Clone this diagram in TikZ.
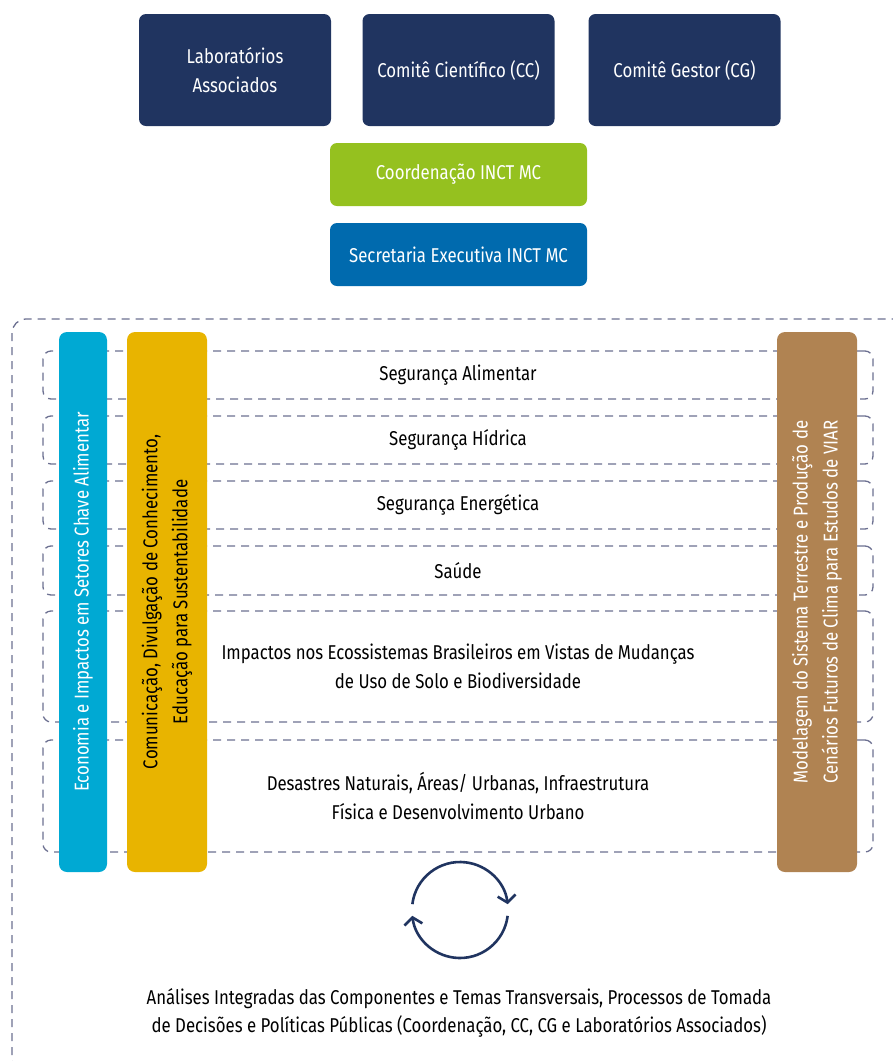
\documentclass[tikz,border=0pt]{standalone}
\usepackage{fontspec}
\setmainfont{Fira Sans}[FakeStretch=0.84]
\usepackage{tikz}
\usetikzlibrary{arrows.meta}
\definecolor{navyb}{RGB}{32,52,96}
\definecolor{greenb}{RGB}{149,193,31}
\definecolor{blueb}{RGB}{0,106,174}
\definecolor{cyanb}{RGB}{0,169,211}
\definecolor{goldb}{RGB}{232,180,0}
\definecolor{brownb}{RGB}{176,131,82}
\definecolor{dashc}{RGB}{108,112,145}

\begin{document}
\begin{tikzpicture}[x=1pt,y=-1pt,
  txt/.style={font=\fontsize{20}{28.5}\selectfont,align=center,inner sep=0pt},
  topbox/.style={txt,fill=navyb,text=white,rounded corners=7pt,minimum width=192pt,minimum height=112pt},
  midbox/.style={txt,text=white,rounded corners=7pt,minimum width=257pt,minimum height=63pt},
  row/.style={txt,draw=dashc,line width=1.3pt,dash pattern=on 8pt off 6pt,rounded corners=8pt,minimum width=830pt},
  bar/.style={txt,rotate=90,rounded corners=8pt,minimum width=540pt,font=\fontsize{20}{30}\selectfont},
  cyc/.style={navyb,line width=2.6pt,-{Straight Barb[length=7pt,width=18pt,line width=2.6pt]}}]
\useasboundingbox (0,0) rectangle (893,1061);

% outer frame, cut by the page
\begin{scope}
\clip (0,0) rectangle (893,1061);
\draw[dashc,line width=1.3pt,dash pattern=on 8pt off 6pt,rounded corners=14pt] (12,319) rectangle (920,1075);
\end{scope}

\node[topbox] (lab) at (235,70) {Laboratórios\\Associados};
\node[topbox] (cc) at (458.5,70) {Comitê Científico (CC)};
\node[topbox] (cg) at (684.5,70) {Comitê Gestor (CG)};
\node[midbox,fill=greenb] (coord) at (458.5,174.5) {Coordenação INCT MC};
\node[midbox,fill=blueb] (sec) at (458.5,254.5) {Secretaria Executiva INCT MC};

% themes
\node[row,minimum height=48pt] (alim) at (458,375) {Segurança Alimentar};
\node[row,minimum height=48pt] (hid) at (458,440) {Segurança Hídrica};
\node[row,minimum height=48pt] (ener) at (458,505) {Segurança Energética};
\node[row,minimum height=49pt] (sau) at (458,570.5) {Saúde};
\node[row,minimum height=111pt] (eco) at (458,666.5) {Impactos nos Ecossistemas Brasileiros em Vistas de Mudanças\\de Uso de Solo e Biodiversidade};
\node[row,minimum height=112pt] (des) at (458,796) {Desastres Naturais, Áreas/ Urbanas, Infraestrutura\\Física e Desenvolvimento Urbano};

% transversal bars
\node[bar,fill=cyanb,text=white,minimum height=48pt] (econ) at (83,602) {Economia e Impactos em Setores Chave Alimentar};
\node[bar,fill=goldb,text=black,minimum height=80pt] (com) at (167,602) {Comunicação, Divulgação de Conhecimento,\\Educação para Sustentabilidade};
\node[bar,fill=brownb,text=white,minimum height=80pt] (mod) at (817,602) {Modelagem do Sistema Terrestre e Produção de\\Cenários Futuros de Clima para Estudos de VIAR};

% cycle
\coordinate (ctr) at (460,910);
\draw[cyc] (ctr) ++(187:48) arc (187:353:48);
\draw[cyc] (ctr) ++(7:48) arc (7:173:48);

\node[txt] (anal) at (459,1013) {Análises Integradas das Componentes e Temas Transversais, Processos de Tomada\\de Decisões e Políticas Públicas (Coordenação, CC, CG e Laboratórios Associados)};
\end{tikzpicture}
\end{document}
